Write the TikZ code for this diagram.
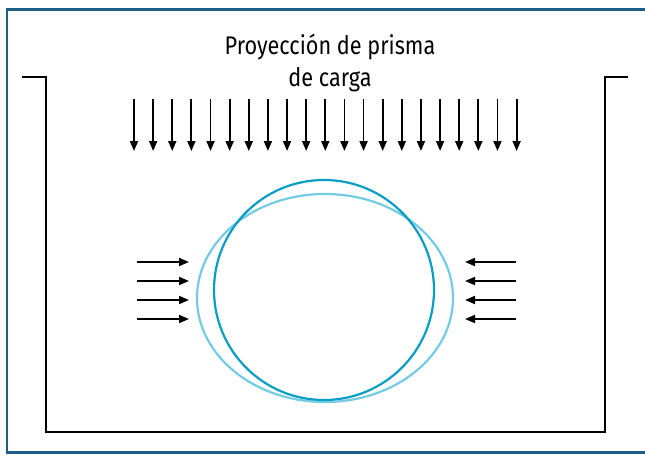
\documentclass[tikz,border=0pt]{standalone}
\usepackage{fontspec}
\setmainfont{Fira Sans}
\newfontfamily\titlefont{Fira Sans}[FakeStretch=0.85]
\usetikzlibrary{arrows.meta}
\definecolor{frameblue}{HTML}{1B5E86}
\definecolor{darkring}{HTML}{0A9EC4}
\definecolor{lightring}{HTML}{74CBE4}
\tikzset{
  load/.style={line width=1.8pt,-{Triangle[length=10pt,width=8pt]}},
  wall/.style={line width=2.4pt,line cap=butt,line join=miter},
}
\begin{document}
\begin{tikzpicture}[x=1pt,y=-1pt]
\useasboundingbox (0,0) rectangle (645,455);
\begin{scope}
\clip (0,0) rectangle (645,455);
\draw[frameblue,line width=2.6pt] (7,9.5) rectangle (660,452.5);
\end{scope}
\node[font=\titlefont\fontsize{25.5}{32}\selectfont,align=center] (title) at (330,63) {Proyección de prisma\\de carga};
\coordinate (tl) at (22,77);
\coordinate (tr) at (628,77);
\draw[wall] (tl) -- (46,77) -- (46,432) -- (605,432) -- (605,77) -- (tr);
\foreach \i in {0,...,20}{
  \coordinate (d\i s) at ({134+19.13*\i},99);
  \coordinate (d\i e) at ({134+19.13*\i},151);
  \draw[load] (d\i s) -- (d\i e);
}
\foreach \y [count=\k] in {262,281,300,319}{
  \coordinate (l\k s) at (137,\y);
  \coordinate (l\k e) at (189,\y);
  \coordinate (r\k s) at (516,\y);
  \coordinate (r\k e) at (465,\y);
  \draw[load] (l\k s) -- (l\k e);
  \draw[load] (r\k s) -- (r\k e);
}
\draw[lightring,line width=2.2pt] (325,298) ellipse [x radius=128,y radius=104];
\draw[darkring,line width=2.2pt] (324,290) circle [radius=110];
\end{tikzpicture}
\end{document}
